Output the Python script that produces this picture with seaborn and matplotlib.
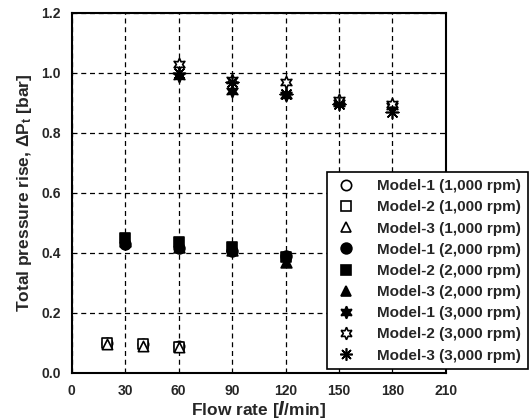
import matplotlib
matplotlib.use("Agg")
import matplotlib.pyplot as plt
from matplotlib.lines import Line2D
import pandas as pd
import seaborn as sns

# Flow rates [l/min] per speed
flow_1000 = [20, 40, 60]
flow_2000 = [30, 60, 90, 120]
flow_3000 = [60, 90, 120, 150, 180]

# Total pressure rise [bar]
m1_1000 = [0.100, 0.095, 0.090]
m2_1000 = [0.100, 0.095, 0.085]
m3_1000 = [0.095, 0.090, 0.085]

m1_2000 = [0.430, 0.415, 0.405, 0.390]
m2_2000 = [0.450, 0.435, 0.420, 0.385]
m3_2000 = [0.440, 0.420, 0.410, 0.370]

m1_3000 = [0.990, 0.940, 0.925, 0.900, 0.890]
m2_3000 = [1.030, 0.975, 0.970, 0.910, 0.895]
m3_3000 = [1.000, 0.970, 0.930, 0.895, 0.870]

labels = [
    "Model-1 (1,000 rpm)", "Model-2 (1,000 rpm)", "Model-3 (1,000 rpm)",
    "Model-1 (2,000 rpm)", "Model-2 (2,000 rpm)", "Model-3 (2,000 rpm)",
    "Model-1 (3,000 rpm)", "Model-2 (3,000 rpm)", "Model-3 (3,000 rpm)",
]

series = [
    (flow_1000, m1_1000, "o", "white", 55),
    (flow_1000, m2_1000, "s", "white", 50),
    (flow_1000, m3_1000, "^", "white", 55),
    (flow_2000, m1_2000, "o", "black", 60),
    (flow_2000, m2_2000, "s", "black", 55),
    (flow_2000, m3_2000, "^", "black", 60),
    (flow_3000, m1_3000, (6, 1, 0), "black", 80),
    (flow_3000, m2_3000, (6, 1, 0), "white", 80),
    (flow_3000, m3_3000, (8, 2, 0), "black", 80),
]

sns.set_style("white")
plt.rcParams["font.family"] = ["Liberation Sans", "DejaVu Sans"]
plt.rcParams["font.weight"] = "bold"
plt.rcParams["mathtext.default"] = "regular"

fig = plt.figure(figsize=(5.32, 4.2), dpi=100)
ax = fig.add_axes([0.135, 0.113, 0.703, 0.857])

for (fx, fy, mk, fc, sz), lab in zip(series, labels):
    df = pd.DataFrame({"flow": fx, "dp": fy})
    sns.scatterplot(data=df, x="flow", y="dp", ax=ax, marker=mk, s=sz,
                    color=fc, edgecolor="black", linewidth=1.2, zorder=3)

ax.set_xlim(0, 210)
ax.set_ylim(0, 1.2)
ax.set_xticks(range(0, 211, 30))
ax.set_yticks([0.0, 0.2, 0.4, 0.6, 0.8, 1.0, 1.2])
ax.set_yticklabels([f"{v:.1f}" for v in ax.get_yticks()])
ax.grid(True, color="black", linestyle=(0, (4, 3)), linewidth=0.9)
ax.tick_params(direction="in", length=6, width=1.5, labelsize=10, pad=8)
for lbl in ax.get_xticklabels() + ax.get_yticklabels():
    lbl.set_fontweight("bold")
for sp in ax.spines.values():
    sp.set_linewidth(1.5)
    sp.set_color("black")

ax.set_xlabel(r"Flow rate [$\mathit{l}$/min]", fontsize=12.5, fontweight="bold", labelpad=1)
ax.set_ylabel(r"Total pressure rise, $\Delta$P$_t$ [bar]", fontsize=12.5, fontweight="bold",
              labelpad=5)

handles = []
for (fx, fy, mk, fc, sz), lab in zip(series, labels):
    handles.append(Line2D([], [], linestyle="none", marker=mk, markersize=sz ** 0.5 * 1.0,
                          markerfacecolor=fc, markeredgecolor="black",
                          markeredgewidth=1.2, label=lab))

leg = fig.legend(handles=handles, loc="lower right", bbox_to_anchor=(0.998, 0.113),
                 frameon=True, fancybox=False, edgecolor="black", framealpha=1,
                 prop={"weight": "bold", "size": 11}, handletextpad=1.3,
                 labelspacing=0.47, borderpad=0.45, handlelength=1.5,
                 borderaxespad=0.2)
leg.get_frame().set_linewidth(1.2)

fig.savefig("out.png", dpi=100)
